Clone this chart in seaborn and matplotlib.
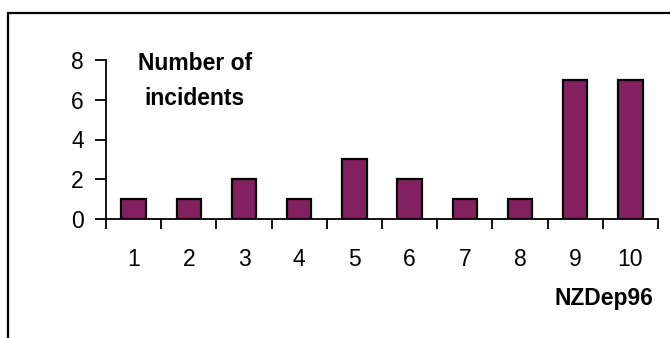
import matplotlib
matplotlib.use("Agg")
import matplotlib.pyplot as plt
from matplotlib import font_manager
import seaborn as sns
import pandas as pd
from matplotlib.patches import Rectangle

categories = ["1", "2", "3", "4", "5", "6", "7", "8", "9", "10"]
incidents = [1, 1, 2, 1, 3, 2, 1, 1, 7, 7]
y_ticks = [0, 2, 4, 6, 8]

sns.set_theme(style="white")
plt.rcParams["font.family"] = ["Liberation Sans", "DejaVu Sans"]

bold_path = None
for f in font_manager.fontManager.ttflist:
    fn = f.fname.lower()
    if "liberationsans-bold.ttf" in fn.replace(" ", ""):
        bold_path = f.fname
        break
if bold_path:
    bold_fp = font_manager.FontProperties(fname=bold_path, size=16.5)
else:
    bold_fp = font_manager.FontProperties(family="Liberation Sans", weight="bold", size=16.5)

df = pd.DataFrame({"NZDep96": categories, "incidents": incidents})

fig = plt.figure(figsize=(6.7, 3.38), dpi=100)
ax = fig.add_axes([106 / 670, 1 - 219 / 338, 552 / 670, 159 / 338])

sns.barplot(data=df, x="NZDep96", y="incidents", order=categories, ax=ax,
            color="#822060", saturation=1, width=0.44,
            edgecolor="black", linewidth=1.6)

ax.set_ylim(0, 8)
ax.set_xlim(-0.5, len(categories) - 0.5)
ax.set_yticks(y_ticks)
ax.set_yticklabels([str(v) for v in y_ticks])
ax.set_xticks(range(len(categories)))
ax.set_xticklabels(categories)
ax.set_xticks([i - 0.5 for i in range(len(categories) + 1)], minor=True)
ax.tick_params(axis="x", which="major", length=0, pad=21, labelsize=16.5, colors="black")
ax.tick_params(axis="x", which="minor", length=7, width=1.3, direction="out", color="black", bottom=True)
ax.tick_params(axis="y", which="major", length=8, width=1.3, direction="out", pad=8,
               labelsize=16.5, colors="black", left=True)
ax.set_xlabel("")
ax.set_ylabel("")
for s in ["top", "right"]:
    ax.spines[s].set_visible(False)
for s in ["left", "bottom"]:
    ax.spines[s].set_color("black")
    ax.spines[s].set_linewidth(1.3)

fig.text(195 / 670, 1 - 81 / 338, "Number of\nincidents", ha="center", va="center",
         fontproperties=bold_fp, linespacing=1.7, color="black")
fig.text(653 / 670, 1 - 298 / 338, "NZDep96", ha="right", va="center",
         fontproperties=bold_fp, color="black")

frame = Rectangle((8 / 670, -0.2), 1.2, 1.2 - 13 / 338, transform=fig.transFigure,
                  fill=False, edgecolor="black", linewidth=1.6, clip_on=False)
fig.patches.append(frame)

fig.savefig("out.png", dpi=100)
